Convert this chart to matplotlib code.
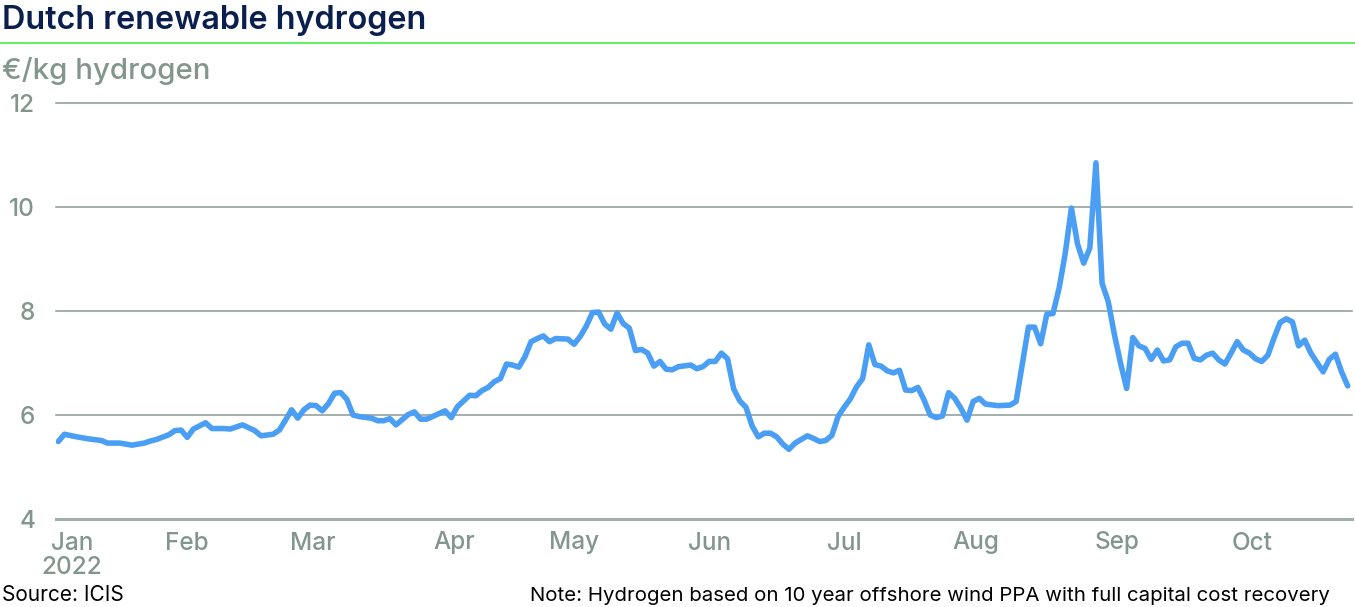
import matplotlib
matplotlib.use('Agg')
import matplotlib.pyplot as plt
from matplotlib.lines import Line2D

# trading-day index (0 = 3 Jan 2022) and price in EUR/kg
day = [0, 1, 3, 5, 7, 8, 10, 12, 14, 15, 16, 18, 19, 20, 21, 22, 24, 25, 27, 28,
       30, 32, 33, 35, 36, 37, 38, 39, 40, 41, 42, 43, 44, 45, 46, 47, 48, 49, 51, 52,
       53, 54, 55, 57, 58, 59, 60, 63, 64, 65, 67, 68, 69, 70, 71, 72, 73, 74, 75, 76,
       77, 78, 79, 80, 81, 83, 84, 85, 86, 87, 88, 89, 90, 91, 92, 93, 94, 95, 96, 97,
       98, 99, 100, 101, 103, 104, 105, 106, 107, 108, 109, 110, 111, 112, 113, 114, 115, 116, 117, 118,
       119, 120, 122, 123, 124, 125, 126, 127, 128, 129, 130, 131, 132, 133, 134, 135, 136, 137, 138, 139,
       140, 141, 142, 143, 144, 145, 146, 147, 148, 149, 150, 151, 153, 155, 156, 158, 159, 160, 161, 162,
       163, 164, 165, 166, 167, 168, 169, 170, 171, 172, 173, 174, 175, 176, 177, 178, 179, 180, 181, 182,
       183, 184, 185, 186, 187, 188, 189, 190, 191, 192, 193, 194, 195, 196, 197, 198, 199, 200, 201, 202,
       203, 204, 206, 207, 208, 209, 210]
price = [5.49, 5.63, 5.58, 5.54, 5.51, 5.46, 5.46, 5.42, 5.46, 5.50, 5.53, 5.62, 5.70, 5.71, 5.57, 5.73, 5.85, 5.74, 5.74, 5.73,
         5.81, 5.70, 5.60, 5.63, 5.71, 5.90, 6.10, 5.94, 6.10, 6.19, 6.18, 6.08, 6.22, 6.42, 6.43, 6.30, 6.00, 5.97, 5.94, 5.89,
         5.89, 5.93, 5.81, 6.01, 6.06, 5.92, 5.92, 6.08, 5.95, 6.16, 6.38, 6.37, 6.47, 6.53, 6.64, 6.70, 6.98, 6.96, 6.92, 7.12,
         7.41, 7.47, 7.52, 7.41, 7.47, 7.46, 7.36, 7.51, 7.71, 7.97, 7.98, 7.75, 7.65, 7.96, 7.76, 7.67, 7.24, 7.26, 7.19, 6.94,
         7.03, 6.88, 6.87, 6.93, 6.96, 6.89, 6.93, 7.03, 7.03, 7.19, 7.08, 6.50, 6.27, 6.15, 5.79, 5.58, 5.65, 5.65, 5.58, 5.44,
         5.34, 5.46, 5.60, 5.55, 5.49, 5.51, 5.61, 5.97, 6.15, 6.31, 6.54, 6.70, 7.35, 6.97, 6.94, 6.85, 6.81, 6.86, 6.48, 6.47,
         6.53, 6.29, 6.00, 5.95, 5.98, 6.43, 6.32, 6.13, 5.90, 6.26, 6.32, 6.21, 6.18, 6.19, 6.26, 7.69, 7.69, 7.37, 7.94, 7.95,
         8.44, 9.11, 9.98, 9.29, 8.92, 9.21, 10.85, 8.53, 8.18, 7.55, 7.00, 6.51, 7.49, 7.33, 7.28, 7.07, 7.25, 7.04, 7.06, 7.31,
         7.38, 7.38, 7.09, 7.06, 7.15, 7.19, 7.06, 6.98, 7.19, 7.41, 7.25, 7.19, 7.08, 7.03, 7.15, 7.48, 7.78, 7.85, 7.79, 7.33,
         7.44, 7.19, 6.83, 7.07, 7.17, 6.83, 6.56]

# month labels sit on the first trading day of each month
month_labels = ['Jan\n2022', 'Feb', 'Mar', 'Apr', 'May', 'Jun', 'Jul', 'Aug', 'Sep', 'Oct']
month_pos = [2.2, 21, 41.5, 64.5, 84, 106, 128, 149.5, 172.5, 194.5]
yticks = [4, 6, 8, 10, 12]

NAVY = '#0b1f4f'
GREY = '#83968e'
BLUE = '#4a9ff5'
GREEN = '#66ee66'

plt.rcParams['font.family'] = ['Inter', 'DejaVu Sans']

W, H = 1355, 607
fig = plt.figure(figsize=(W / 100, H / 100), dpi=100)

# axes box in pixels: left 56, right 1352, top 103 (y=12), bottom 519 (y=4)
ax = fig.add_axes([56 / W, 1 - 519 / H, (1352 - 56) / W, (519 - 103) / H])
ax.plot(day, price, color=BLUE, lw=4.0, solid_joinstyle='round', solid_capstyle='round', zorder=3)

ax.set_xlim(-0.37, 210.7)
ax.set_ylim(4, 12)
ax.set_yticks(yticks)
ax.set_xticks(month_pos)
ax.set_xticklabels(month_labels, linespacing=1.1)
ax.tick_params(axis='both', length=0, labelsize=17.5, labelcolor=GREY)
ax.tick_params(axis='y', pad=15)
ax.tick_params(axis='x', pad=9)
for lab in ax.get_yticklabels() + ax.get_xticklabels():
    lab.set_fontweight('medium')
for lab in ax.get_yticklabels():
    lab.set_horizontalalignment('right')

ax.grid(axis='y', color='#8c9994', lw=1.1, clip_on=False)
ax.grid(axis='x', visible=False)
for s in ['top', 'right', 'left']:
    ax.spines[s].set_visible(False)
ax.spines['bottom'].set_color('#a3aea9')
ax.spines['bottom'].set_linewidth(2.2)

# header
fig.text(2 / W, 1 - 28.5 / H, 'Dutch renewable hydrogen', color=NAVY, fontsize=23.3,
         fontweight='semibold', va='baseline', ha='left')
fig.add_artist(Line2D([0, 1], [1 - 43.3 / H] * 2, transform=fig.transFigure, color=GREEN, lw=1.5))
fig.text(2 / W, 1 - 79.3 / H, '€/kg hydrogen', color=GREY, fontsize=21.2, fontweight='medium',
         va='baseline', ha='left')

# footer
fig.text(2 / W, 1 - 601 / H, 'Source: ICIS', color='black', fontsize=15, va='baseline', ha='left')
fig.text(1330 / W, 1 - 601 / H, 'Note: Hydrogen based on 10 year offshore wind PPA with full capital cost recovery',
         color='black', fontsize=14.7, va='baseline', ha='right')

fig.savefig('out.png', dpi=100)
